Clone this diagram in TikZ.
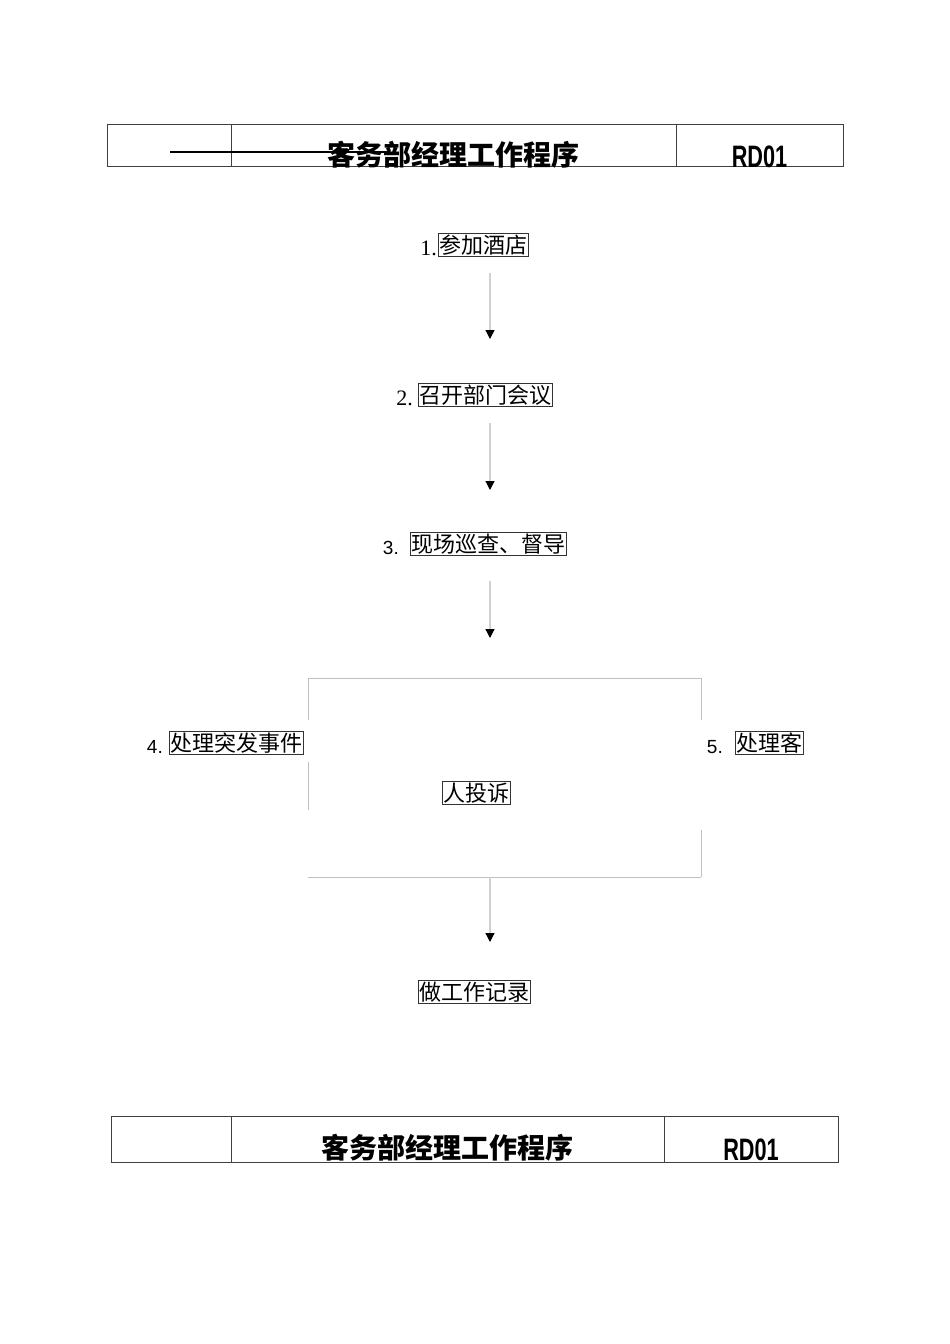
\documentclass[tikz,border=0pt]{standalone}
\usepackage{fontspec}
\setmainfont{Liberation Serif}
\newfontfamily\cjk{Noto Sans CJK SC}
\newfontfamily\sansf{Liberation Sans}
\usetikzlibrary{arrows.meta}
\begin{document}
\begin{tikzpicture}[x=1pt,y=-1pt,
  tbl/.style={draw=black!75, line width=0.9pt},
  strike/.style={draw=black, line width=2pt},
  box/.style={draw=black!80, line width=0.8pt, inner xsep=1pt, inner ysep=0pt,
    text height=19.5pt, text depth=3.5pt, font=\cjk\fontsize{22}{22}\selectfont, anchor=south west},
  num/.style={inner sep=0pt, anchor=base east, font=\fontsize{22}{22}\selectfont},
  snum/.style={inner sep=0pt, anchor=base east, font=\sansf\fontsize{19}{19}\selectfont},
  flow/.style={draw=black!18, line width=1.2pt, -{Triangle[color=black,fill=black,width=9pt,length=9pt]}},
  frameline/.style={draw=black!25, line width=1pt},
  title/.style={font=\cjk\bfseries\fontsize{28}{28}\selectfont, inner sep=0pt, anchor=base},
  code/.style={font=\sansf\bfseries\fontsize{31}{31}\selectfont, inner sep=0pt, anchor=base}]
\fill[white] (0,0) rectangle (950,1344);
\useasboundingbox (0,0) rectangle (950,1344);

% top table
\draw[tbl] (107,124) rectangle (843,166);
\draw[tbl] (231,124) -- (231,166);
\draw[tbl] (676,124) -- (676,166);
\node[title] (t1) at (453.5,165) {客务部经理工作程序};
\node[code] (c1) at (759.5,167) {\scalebox{0.7}[1]{RD01}};
\draw[strike] (170,152) -- (390,152);

% flow nodes
\node[box] (b1) at (438,257) {参加酒店};
\node[num] (l1) at (437,255) {1.};
\node[box] (b2) at (418,407) {召开部门会议};
\node[num] (l2) at (413,405) {2.};
\node[box] (b3) at (410,556) {现场巡查、督导};
\node[snum] (l3) at (399,554) {3.};
\node[box] (b4) at (169,755) {处理突发事件};
\node[snum] (l4) at (163,753) {4.};
\node[box] (b5) at (735,755) {处理客};
\node[snum] (l5) at (723,753) {5.};
\node[box] (b6) at (442,805) {人投诉};
\node[box] (b7) at (418,1004) {做工作记录};

% frame
\draw[frameline] (308,678) -- (701,678);
\draw[frameline] (308,678) -- (308,720);
\draw[frameline] (308,762) -- (308,810);
\draw[frameline] (701,678) -- (701,720);
\draw[frameline] (701,830) -- (701,877);
\draw[frameline] (308,877) -- (701,877);

% arrows
\coordinate (a1s) at (490,273); \coordinate (a1e) at (490,339);
\coordinate (a2s) at (490,423); \coordinate (a2e) at (490,490);
\coordinate (a3s) at (490,581); \coordinate (a3e) at (490,638);
\coordinate (a4s) at (490,877); \coordinate (a4e) at (490,942);
\draw[flow] (a1s) -- (a1e);
\draw[flow] (a2s) -- (a2e);
\draw[flow] (a3s) -- (a3e);
\draw[flow] (a4s) -- (a4e);

% bottom table
\draw[tbl] (111,1116) rectangle (838,1162);
\draw[tbl] (231,1116) -- (231,1162);
\draw[tbl] (664,1116) -- (664,1162);
\node[title] (t2) at (447.5,1158) {客务部经理工作程序};
\node[code] (c2) at (751,1160) {\scalebox{0.7}[1]{RD01}};
\end{tikzpicture}
\end{document}
